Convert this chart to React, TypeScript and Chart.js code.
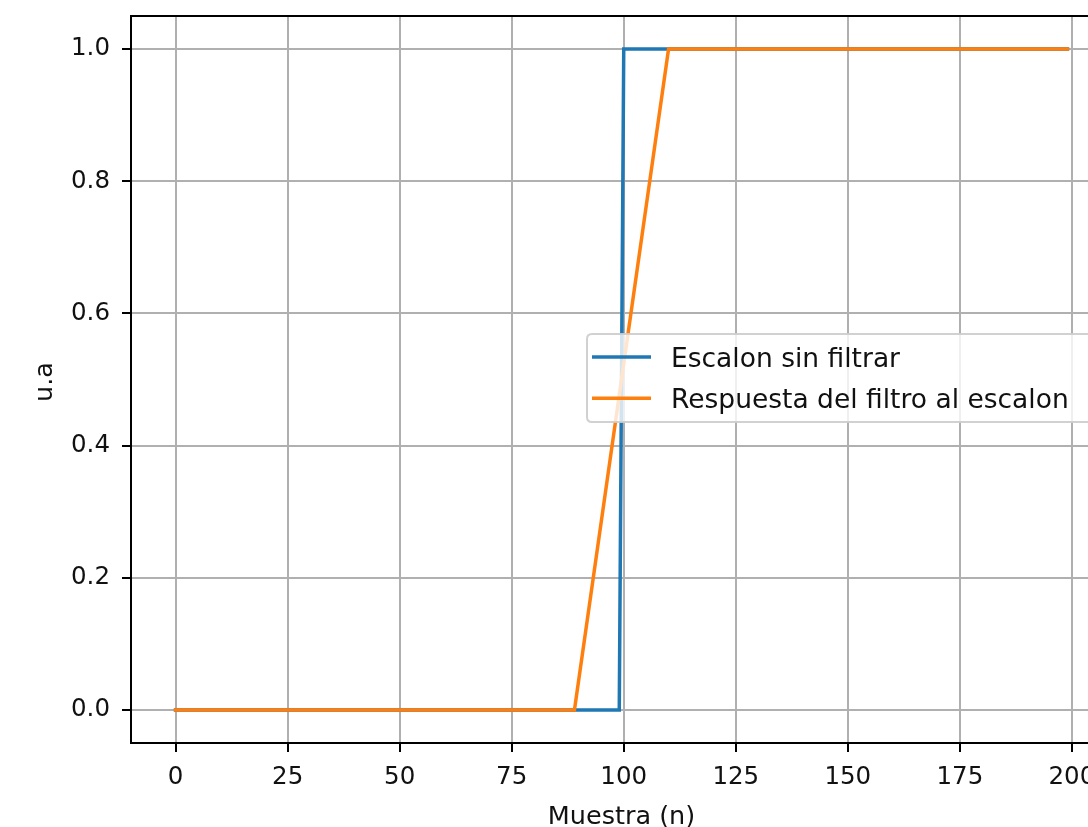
import React, { useEffect, useRef } from "react";
import { Chart, registerables } from "chart.js";

Chart.register(...registerables);

// ---- data ----
const blueX = [0, 99, 100, 199];
const blueY = [0, 0, 1, 1];
const orangeX = [0, 89, 110, 199];
const orangeY = [0, 0, 1, 1];
const xTicks = [0, 25, 50, 75, 100, 125, 150, 175, 200];
const yTicks = [0, 0.2, 0.4, 0.6, 0.8, 1.0];
const seriesLabels = ["Escalon sin filtrar", "Respuesta del filtro al escalon"];
const xTitle = "Muestra (n)";
const yTitle = "u.a";

// ---- styles ----
const BLUE = "#1f77b4";
const ORANGE = "#ff7f0e";
const FONT = '"DejaVu Sans", "Noto Sans", sans-serif';
const TEXT = "#111111";
const CANVAS_W = 1130;
const CANVAS_H = 827;
const AREA = { left: 131, top: 16, right: 1112, bottom: 743 };

const decorPlugin = {
  id: "mplDecor",
  afterDraw(chart: any) {
    const ctx: CanvasRenderingContext2D = chart.ctx;
    const ca = chart.chartArea;
    ctx.save();
    // spines
    ctx.strokeStyle = "#000";
    ctx.lineWidth = 2;
    ctx.strokeRect(ca.left, ca.top, ca.right - ca.left, ca.bottom - ca.top);

    // axis titles
    ctx.fillStyle = TEXT;
    ctx.font = `25.5px ${FONT}`;
    ctx.textAlign = "center";
    ctx.textBaseline = "alphabetic";
    ctx.fillText(xTitle, (ca.left + ca.right) / 2, 824);
    ctx.save();
    ctx.translate(52, 382);
    ctx.rotate(-Math.PI / 2);
    ctx.fillText(yTitle, 0, 0);
    ctx.restore();

    // legend
    const lx = 587, ly = 334, lw = 1099 - 587, lh = 422 - 334, r = 5;
    ctx.beginPath();
    ctx.moveTo(lx + r, ly);
    ctx.lineTo(lx + lw - r, ly);
    ctx.quadraticCurveTo(lx + lw, ly, lx + lw, ly + r);
    ctx.lineTo(lx + lw, ly + lh - r);
    ctx.quadraticCurveTo(lx + lw, ly + lh, lx + lw - r, ly + lh);
    ctx.lineTo(lx + r, ly + lh);
    ctx.quadraticCurveTo(lx, ly + lh, lx, ly + lh - r);
    ctx.lineTo(lx, ly + r);
    ctx.quadraticCurveTo(lx, ly, lx + r, ly);
    ctx.closePath();
    ctx.fillStyle = "rgba(255,255,255,0.8)";
    ctx.fill();
    ctx.strokeStyle = "rgba(204,204,204,0.9)";
    ctx.lineWidth = 2;
    ctx.stroke();

    const rows = [
      { color: BLUE, y: 357, base: 366.5 },
      { color: ORANGE, y: 398.3, base: 407.8 },
    ];
    ctx.font = `26.5px ${FONT}`;
    ctx.textAlign = "left";
    rows.forEach((row, i) => {
      ctx.strokeStyle = row.color;
      ctx.lineWidth = 3.5;
      ctx.lineCap = "butt";
      ctx.beginPath();
      ctx.moveTo(592, row.y);
      ctx.lineTo(651, row.y);
      ctx.stroke();
      ctx.fillStyle = TEXT;
      ctx.fillText(seriesLabels[i], 671, row.base);
    });
    ctx.restore();
  },
};

export default function App() {
  const ref = useRef<HTMLCanvasElement | null>(null);

  useEffect(() => {
    if (!ref.current) return;
    const gridCommon = {
      color: "#b0b0b0",
      lineWidth: 2,
      drawTicks: true,
      tickLength: 9,
      tickColor: "#000",
      tickWidth: 2,
    };
    const chart = new Chart(ref.current, {
      type: "scatter",
      data: {
        datasets: [
          {
            label: seriesLabels[1],
            data: orangeX.map((x, i) => ({ x, y: orangeY[i] })),
            showLine: true,
            borderColor: ORANGE,
            backgroundColor: ORANGE,
            borderWidth: 3.5,
            pointRadius: 0,
            borderCapStyle: "square",
            tension: 0,
          },
          {
            label: seriesLabels[0],
            data: blueX.map((x, i) => ({ x, y: blueY[i] })),
            showLine: true,
            borderColor: BLUE,
            backgroundColor: BLUE,
            borderWidth: 3.5,
            pointRadius: 0,
            borderCapStyle: "square",
            tension: 0,
          },
        ],
      },
      options: {
        responsive: false,
        animation: false,
        events: [],
        layout: {
          padding: { left: 0, top: AREA.top, right: CANVAS_W - AREA.right, bottom: 0 },
        },
        plugins: {
          legend: { display: false },
          tooltip: { enabled: false },
        },
        scales: {
          x: {
            type: "linear",
            min: -9.95,
            max: 208.95,
            afterBuildTicks: (s: any) => {
              s.ticks = xTicks.map((v) => ({ value: v }));
            },
            afterFit: (s: any) => {
              s.height = CANVAS_H - AREA.bottom;
              s.paddingLeft = 0;
              s.paddingRight = 0;
              s.paddingTop = 0;
              s.paddingBottom = 0;
            },
            grid: gridCommon,
            border: { display: false },
            ticks: {
              autoSkip: false,
              maxRotation: 0,
              padding: 11,
              color: TEXT,
              font: { family: FONT, size: 24.5 },
              callback: (v: any) => String(v),
            },
          },
          y: {
            type: "linear",
            min: -0.05,
            max: 1.05,
            afterBuildTicks: (s: any) => {
              s.ticks = yTicks.map((v) => ({ value: v }));
            },
            afterFit: (s: any) => {
              s.width = AREA.left;
              s.paddingLeft = 0;
              s.paddingRight = 0;
              s.paddingTop = 0;
              s.paddingBottom = 0;
            },
            grid: gridCommon,
            border: { display: false },
            ticks: {
              autoSkip: false,
              padding: 12,
              color: TEXT,
              font: { family: FONT, size: 24.5 },
              callback: (v: any) => Number(v).toFixed(1),
            },
          },
        },
      },
      plugins: [decorPlugin],
    } as any);
    return () => chart.destroy();
  }, []);

  return (
    <div
      style={{
        position: "fixed",
        left: 0,
        top: 0,
        width: 1088,
        height: 827,
        overflow: "hidden",
        background: "#fff",
      }}
    >
      <canvas
        ref={ref}
        width={CANVAS_W}
        height={CANVAS_H}
        style={{ display: "block", width: CANVAS_W, height: CANVAS_H }}
      />
    </div>
  );
}
